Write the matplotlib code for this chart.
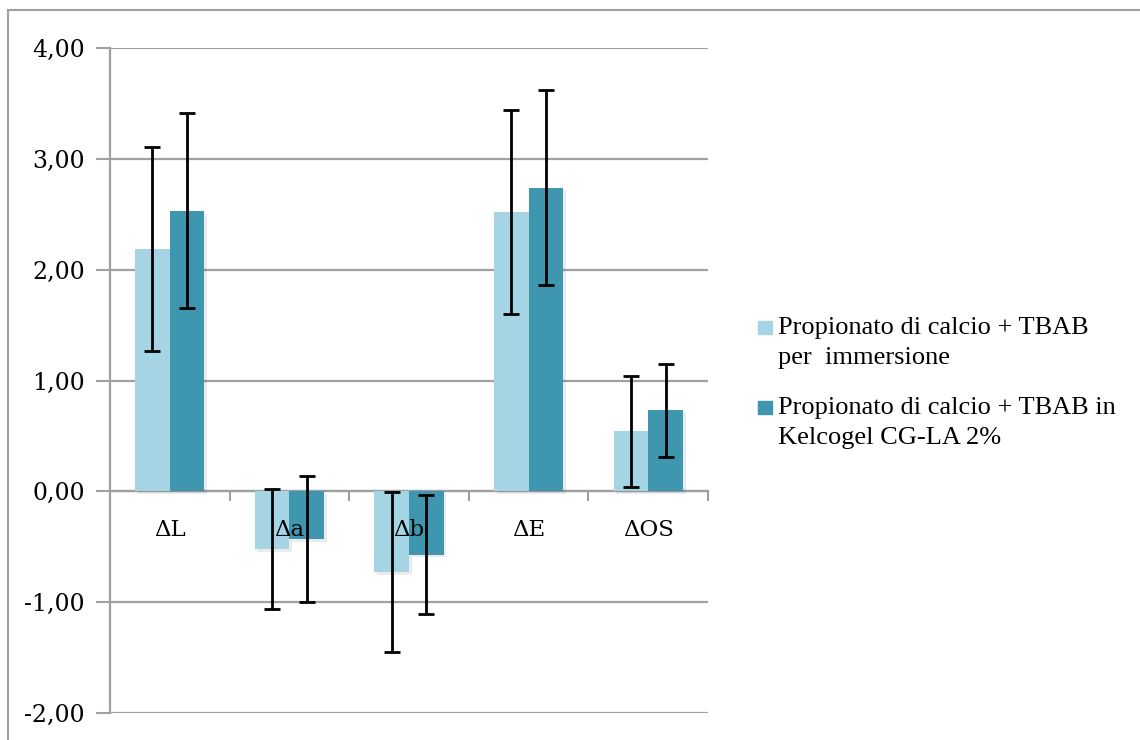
import matplotlib.pyplot as plt
import matplotlib.patheffects as pe
from matplotlib.patches import Rectangle
import numpy as np

categories = ["ΔL", "Δa", "Δb", "ΔE", "ΔOS"]
series_names = ["Propionato di calcio + TBAB\nper  immersione",
                "Propionato di calcio + TBAB in\nKelcogel CG-LA 2%"]
immersione = [2.19, -0.52, -0.73, 2.52, 0.54]
immersione_err = [0.92, 0.54, 0.72, 0.92, 0.50]
kelcogel = [2.53, -0.43, -0.57, 2.74, 0.73]
kelcogel_err = [0.88, 0.565, 0.54, 0.88, 0.42]
yticks = [-2, -1, 0, 1, 2, 3, 4]

light = "#A5D5E5"
dark = "#3E97AE"
grid = "#A0A0A0"

fig = plt.figure(figsize=(11.4, 7.4), dpi=100)
ax = fig.add_axes([110/1140, 1 - 713/740, (708-110)/1140, (713-48)/740])

x = np.arange(len(categories)) + 0.5
w = 0.29
shadow = [pe.SimplePatchShadow(offset=(2, -2), shadow_rgbFace="black", alpha=0.08), pe.Normal()]

b1 = ax.bar(x - w/2, immersione, w, color=light, zorder=3)
b2 = ax.bar(x + w/2, kelcogel, w, color=dark, zorder=3)
for b in list(b1) + list(b2):
    b.set_path_effects(shadow)

ekw = dict(fmt="none", ecolor="black", elinewidth=2, capsize=6, capthick=2, zorder=4)
ax.errorbar(x - w/2, immersione, yerr=immersione_err, **ekw)
ax.errorbar(x + w/2, kelcogel, yerr=kelcogel_err, **ekw)

ax.set_xlim(0, len(categories))
ax.set_ylim(-2, 4)
ax.set_yticks(yticks)
ax.set_yticklabels([f"{v:.2f}".replace(".", ",") for v in yticks],
                   family="DejaVu Serif", fontsize=17)
ax.yaxis.grid(True, color=grid, linewidth=1.6, zorder=0)
ax.tick_params(axis="y", direction="out", length=10, width=1.5, color=grid, pad=8)

ax.spines["bottom"].set_position(("data", 0))
ax.spines["bottom"].set_color(grid)
ax.spines["bottom"].set_linewidth(1.6)
ax.spines["left"].set_color(grid)
ax.spines["left"].set_linewidth(1.6)
ax.spines["top"].set_visible(False)
ax.spines["right"].set_visible(False)

ax.set_xticks(np.arange(1, len(categories) + 1))
ax.set_xticklabels([])
ax.tick_params(axis="x", which="major", direction="out", length=7, width=1.5, color=grid)

# category labels drawn over the bars
for xi, name in zip(x, categories):
    ax.annotate(name, (xi, 0), xytext=(0, -28), textcoords="offset points",
                ha="center", va="center", family="DejaVu Serif", fontsize=16.5, zorder=5)

# legend
for i, (col, name) in enumerate(zip([light, dark], series_names)):
    sq_top = 321 + i * 80
    fig.patches.append(Rectangle((758/1140, 1 - (sq_top + 13)/740), 14/1140, 13/740,
                                 transform=fig.transFigure, color=col))
    fig.text(778/1140, 1 - (sq_top - 4)/740, name, family="Liberation Serif",
             fontsize=19, va="top", ha="left", linespacing=1.45)

# outer frame
fig.patches.append(Rectangle((8/1140, -0.1), 1.2, 1.1 - 10/740, transform=fig.transFigure,
                             fill=False, edgecolor=grid, linewidth=1.5))

fig.savefig("out.png", dpi=100)
